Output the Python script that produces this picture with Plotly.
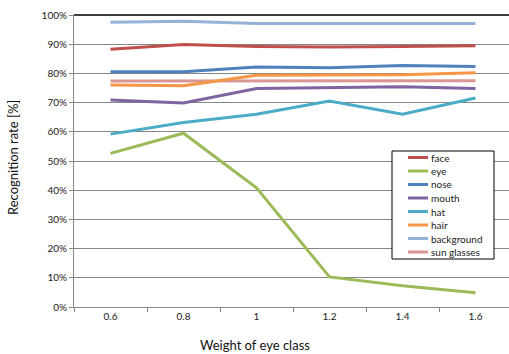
import plotly.graph_objects as go

# Weight of the eye class and recognition rate (%) per class
weights = ["0.6", "0.8", "1", "1.2", "1.4", "1.6"]
series_names = ["face", "eye", "nose", "mouth", "hat", "hair", "background", "sun glasses"]
face = [88.3, 89.9, 89.2, 89.0, 89.2, 89.5]
eye = [52.6, 59.5, 40.8, 10.3, 7.3, 4.9]
nose = [80.6, 80.6, 82.2, 81.9, 82.7, 82.4]
mouth = [70.9, 69.9, 74.8, 75.2, 75.4, 74.8]
hat = [59.2, 63.2, 66.0, 70.5, 66.0, 71.6]
hair = [76.0, 75.8, 79.4, 79.4, 79.5, 80.2]
background = [97.5, 97.9, 97.1, 97.0, 97.1, 97.1]
sun_glasses = [77.4, 77.4, 77.5, 77.5, 77.5, 77.5]
values = [face, eye, nose, mouth, hat, hair, background, sun_glasses]
colors = ["#C0504D", "#9BBB59", "#4F81BD", "#8064A2", "#4BACC6", "#F79646", "#95B3D7", "#DA9694"]
y_ticks = list(range(0, 101, 10))

W, H = 509, 354
L, R, T, B = 74, 0, 15, 47
pw, ph = W - L - R, H - T - B
font = "Lato, 'Open Sans', sans-serif"

fig = go.Figure()
# draw in reverse so "face" sits on top like the source
for name, vals, col in reversed(list(zip(series_names, values, colors))):
    fig.add_trace(go.Scatter(x=weights, y=vals, name=name, mode="lines",
                             line=dict(color=col, width=3), showlegend=False))

def px_x(px):
    return (px - L) / pw

def px_y(py):
    return (H - B - py) / ph

shapes = [
    # top frame line
    dict(type="line", xref="paper", yref="paper", x0=0, x1=1, y0=1, y1=1,
         line=dict(color="black", width=1.3)),
    # legend box
    dict(type="rect", xref="paper", yref="paper", x0=px_x(392), x1=px_x(494),
         y0=px_y(259), y1=px_y(151), line=dict(color="black", width=1),
         fillcolor="white", layer="above"),
]
annotations = []
for i, (name, col) in enumerate(zip(series_names, colors)):
    yy = px_y(157.5 + 13.5 * i)
    shapes.append(dict(type="line", xref="paper", yref="paper", x0=px_x(408), x1=px_x(428),
                       y0=yy, y1=yy, line=dict(color=col, width=3), layer="above"))
    annotations.append(dict(xref="paper", yref="paper", x=px_x(428.5), y=yy, text=name,
                            showarrow=False, xanchor="left", yanchor="middle",
                            font=dict(size=10, color="#222222", family=font)))

annotations.append(dict(xref="paper", yref="paper", x=px_x(255), y=px_y(345), text="Weight of eye class",
                        showarrow=False, xanchor="center", yanchor="middle",
                        font=dict(size=13, color="#111111", family=font)))
annotations.append(dict(xref="paper", yref="paper", x=px_x(13), y=px_y(157), text="Recognition rate [%]",
                        showarrow=False, xanchor="center", yanchor="middle", textangle=-90,
                        font=dict(size=13, color="#111111", family=font)))

fig.update_layout(
    width=W, height=H,
    margin=dict(l=L, r=R, t=T, b=B),
    paper_bgcolor="white", plot_bgcolor="white",
    font=dict(family=font, size=10, color="#222222"),
    shapes=shapes, annotations=annotations,
    xaxis=dict(type="category", range=[-0.5, 5.5 - 3 / 73], tickson="boundaries",
               ticks="outside", ticklen=4, tickcolor="#868686", showgrid=False,
               showline=True, linecolor="#868686", linewidth=1, zeroline=False,
               tickfont=dict(size=10, color="#222222")),
    yaxis=dict(range=[0, 100], tickvals=y_ticks, ticktext=[f"{v}%" for v in y_ticks],
               ticks="outside", ticklen=4, tickcolor="#868686", showgrid=True,
               gridcolor="#868686", gridwidth=1, showline=True, linecolor="#868686",
               linewidth=1, zeroline=False, tickfont=dict(size=10, color="#222222")),
)

fig.write_html("out.html")
